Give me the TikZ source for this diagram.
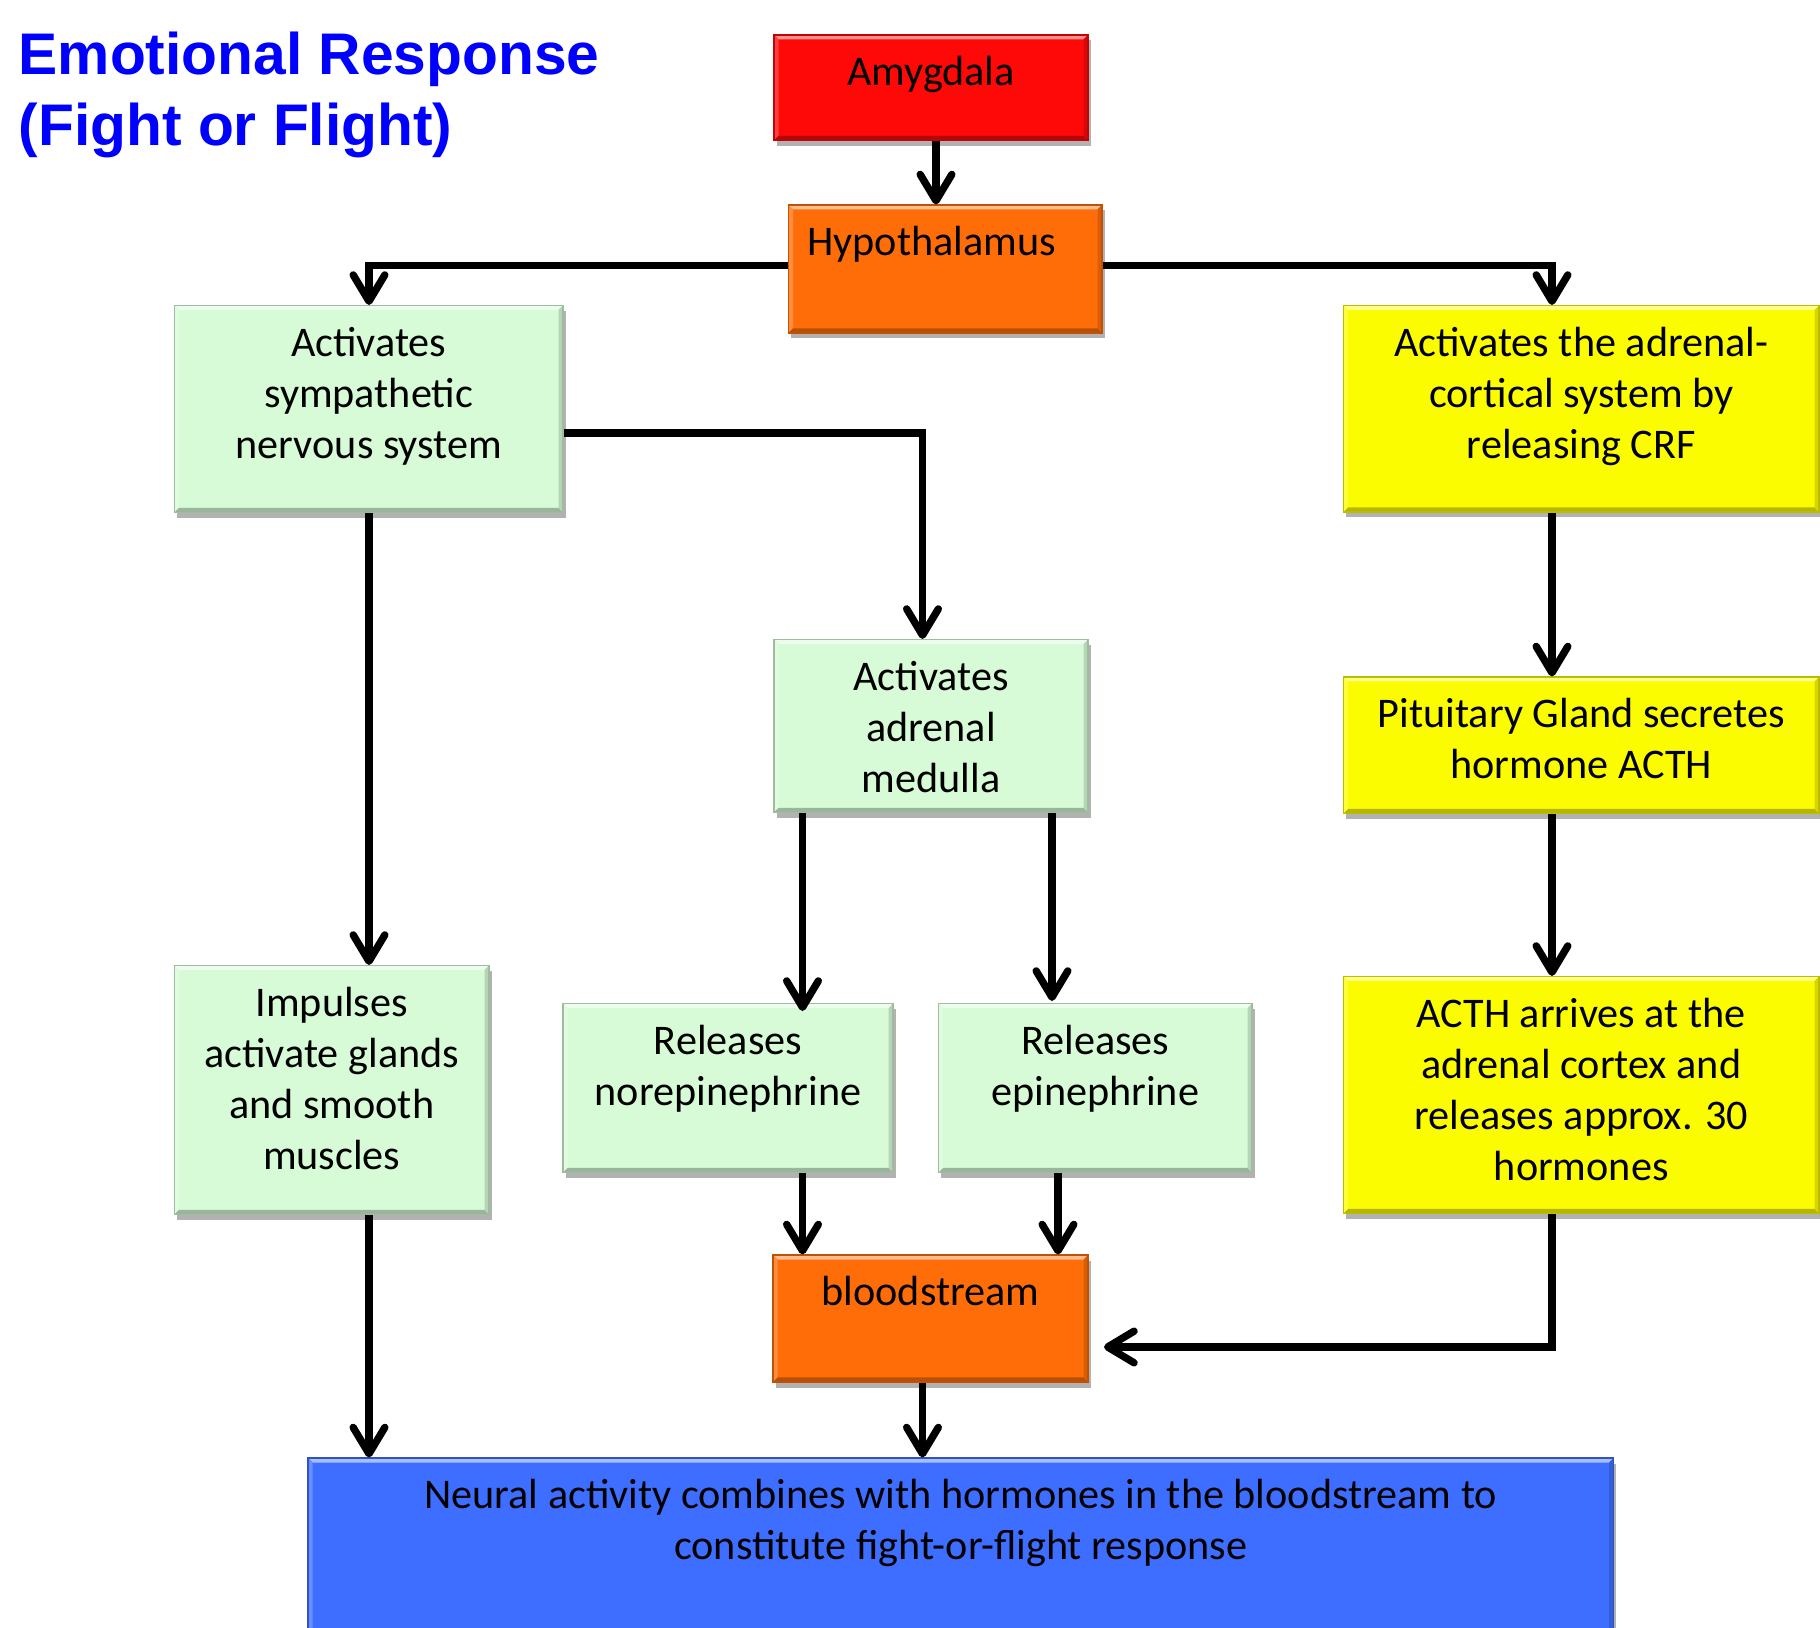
\documentclass[tikz,border=0pt]{standalone}
\usepackage{fontspec}
\setmainfont{Carlito}
\newfontfamily\titlefont{Liberation Sans}
\usetikzlibrary{arrows.meta,shadows,fit}
\definecolor{cRed}{RGB}{255,8,8}
\definecolor{cOrange}{RGB}{255,109,8}
\definecolor{cGreen}{RGB}{214,251,214}
\definecolor{cYellow}{RGB}{252,252,0}
\definecolor{cBlue}{RGB}{62,110,255}
\definecolor{titleblue}{RGB}{0,0,255}
\begin{document}
\begin{tikzpicture}[x=0.01cm,y=-0.01cm,
  bx/.style={rectangle, inner sep=0pt, fill=#1, draw=#1!75!black, line width=0.3pt,
    drop shadow={shadow xshift=0.025cm, shadow yshift=-0.055cm, opacity=0.3, fill=black},
    path picture={
      \fill[#1!45!white] (path picture bounding box.north west) -- (path picture bounding box.north east)
        -- ([shift={(-0.045cm,-0.045cm)}]path picture bounding box.north east)
        -- ([shift={(0.045cm,-0.045cm)}]path picture bounding box.north west) -- cycle;
      \fill[#1!78!white] (path picture bounding box.north west) -- (path picture bounding box.south west)
        -- ([shift={(0.045cm,0.045cm)}]path picture bounding box.south west)
        -- ([shift={(0.045cm,-0.045cm)}]path picture bounding box.north west) -- cycle;
      \fill[#1!72!black] (path picture bounding box.south west) -- (path picture bounding box.south east)
        -- ([shift={(-0.045cm,0.045cm)}]path picture bounding box.south east)
        -- ([shift={(0.045cm,0.045cm)}]path picture bounding box.south west) -- cycle;
      \fill[#1!85!black] (path picture bounding box.north east) -- (path picture bounding box.south east)
        -- ([shift={(-0.045cm,0.045cm)}]path picture bounding box.south east)
        -- ([shift={(-0.045cm,-0.045cm)}]path picture bounding box.north east) -- cycle;
    }},
  lbl/.style={anchor=north, inner sep=0pt, align=center, font=\fontsize{12}{14.5}\selectfont},
  arr/.style={line width=2.1pt, line join=miter, -{Straight Barb[length=7.5pt,width=9pt,round]}}
]
\useasboundingbox (0,0) rectangle (1820,1628);

% title
\node[anchor=north west, inner sep=0pt, align=left, text=titleblue,
      font=\titlefont\bfseries\fontsize{16.7}{20.2}\selectfont] (title) at (18,31)
      {Emotional Response\\(Fight or Flight)};

% boxes
\node[bx=cRed,    fit={(774,35) (1088,140.5)}] (amyg) {};
\node[bx=cOrange, fit={(788.5,205) (1102,333)}] (hypo) {};
\node[bx=cGreen,  fit={(174.5,305.5) (563,512.5)}] (symp) {};
\node[bx=cYellow, fit={(1343.5,305.5) (1819,512)}] (cort) {};
\node[bx=cGreen,  fit={(774,639.5) (1088,812.5)}] (med) {};
\node[bx=cYellow, fit={(1343.5,677) (1819,813.5)}] (pit) {};
\node[bx=cGreen,  fit={(174.5,965.5) (489,1214.5)}] (imp) {};
\node[bx=cGreen,  fit={(563,1003.5) (893,1172.5)}] (nor) {};
\node[bx=cGreen,  fit={(938.5,1003.5) (1252,1172.5)}] (epi) {};
\node[bx=cYellow, fit={(1343.5,976.5) (1819,1213.5)}] (acth) {};
\node[bx=cOrange, fit={(773,1255) (1088,1382)}] (blood) {};
\node[bx=cBlue,   fit={(308,1458) (1613.5,1650)}] (neural) {};

% texts
\node[lbl] (amyg-t) at ([yshift=-0.15cm]amyg.north) {\strut Amygdala};
\node[lbl] (hypo-t) at ([xshift=-0.135cm,yshift=-0.15cm]hypo.north) {\strut Hypothalamus};
\node[lbl] (symp-t) at ([yshift=-0.15cm]symp.north) {\strut Activates\\sympathetic\\nervous system};
\node[lbl] (cort-t) at ([yshift=-0.15cm]cort.north) {\strut Activates the adrenal-\\cortical system by\\releasing CRF};
\node[lbl] (med-t) at ([yshift=-0.15cm]med.north) {\strut Activates\\adrenal\\medulla};
\node[lbl] (pit-t) at ([yshift=-0.15cm]pit.north) {\strut Pituitary Gland secretes\\hormone ACTH};
\node[lbl] (imp-t) at ([yshift=-0.15cm]imp.north) {\strut Impulses\\activate glands\\and smooth\\muscles};
\node[lbl] (nor-t) at ([yshift=-0.15cm]nor.north) {\strut Releases\\norepinephrine};
\node[lbl] (epi-t) at ([yshift=-0.15cm]epi.north) {\strut Releases\\epinephrine};
\node[lbl] (acth-t) at ([yshift=-0.15cm]acth.north) {\strut ACTH arrives at the\\adrenal cortex and\\releases approx. 30\\hormones};
\node[lbl] (blood-t) at ([yshift=-0.15cm]blood.north) {\strut bloodstream};
\node[lbl] (neural-t) at ([yshift=-0.15cm]neural.north) {\strut Neural activity combines with hormones in the bloodstream to\\constitute fight-or-flight response};

% connector columns / rows
\coordinate (cA) at (936,0);
\coordinate (cL) at (369,0);
\coordinate (cM) at (922.5,0);
\coordinate (cR) at (1552,0);
\coordinate (cN) at (802.5,0);
\coordinate (cE1) at (1052,0);
\coordinate (cE2) at (1058,0);
\coordinate (rH) at (0,265.5);
\coordinate (rS) at (0,433);
\coordinate (bIn) at (1104,1347);

% connectors
\draw[arr] (amyg.south -| cA) -- (hypo.north -| cA);
\draw[arr] (hypo.west |- rH) -| (symp.north -| cL);
\draw[arr] (hypo.east |- rH) -| (cort.north -| cR);
\draw[arr] (symp.east |- rS) -| (med.north -| cM);
\draw[arr] (symp.south -| cL) -- (imp.north -| cL);
\draw[arr] (med.south -| cN) -- ([yshift=-0.08cm]nor.north -| cN);
\draw[arr] (med.south -| cE1) -- ([yshift=0.02cm]epi.north -| cE1);
\draw[arr] (nor.south -| cN) -- (blood.north -| cN);
\draw[arr] (epi.south -| cE2) -- (blood.north -| cE2);
\draw[arr] (imp.south -| cL) -- (neural.north -| cL);
\draw[arr] (blood.south -| cM) -- (neural.north -| cM);
\draw[arr] (cort.south -| cR) -- (pit.north -| cR);
\draw[arr] (pit.south -| cR) -- (acth.north -| cR);
\draw[arr] (acth.south -| cR) |- (bIn);
\end{tikzpicture}
\end{document}
